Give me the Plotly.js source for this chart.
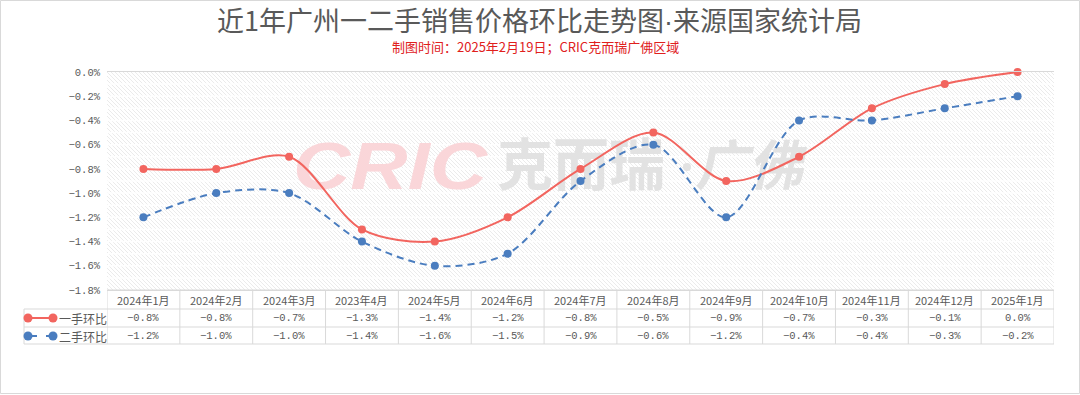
<!DOCTYPE html>
<html><head><meta charset="utf-8">
<script src="https://cdn.plot.ly/plotly-3.0.1.min.js"></script>
<style>html,body{margin:0;padding:0;background:#fff;}#c{width:1080px;height:395px;}</style>
</head><body><div id="c"></div>
<script>
const categories = ['2024年1月','2024年2月','2024年3月','2023年4月','2024年5月','2024年6月','2024年7月','2024年8月','2024年9月','2024年10月','2024年11月','2024年12月','2025年1月'];
const newHome = [-0.8,-0.8,-0.7,-1.3,-1.4,-1.2,-0.8,-0.5,-0.9,-0.7,-0.3,-0.1,0.0];
const resale = [-1.2,-1.0,-1.0,-1.4,-1.6,-1.5,-0.9,-0.6,-1.2,-0.4,-0.4,-0.3,-0.2];
const seriesNames = ['一手环比','二手环比'];
const yTicks = [0,-0.2,-0.4,-0.6,-0.8,-1.0,-1.2,-1.4,-1.6,-1.8];

const W=1080,H=395, L=107, R=1054, T=72, B=290;
const PW=R-L, PH=B-T;
const px=x=>(x-L)/PW, py=y=>(B-y)/PH;
const RED='#f2655f', BLUE='#4a7dbf', GRID='#d9d9d9', TXT='#595959';
const fmt=v=>(v<0?'−':'')+Math.abs(v).toFixed(1)+'%';

// hatched background + watermark as svg image
let svg = `<svg xmlns="http://www.w3.org/2000/svg" width="${PW}" height="${PH}" viewBox="0 0 ${PW} ${PH}">
<defs><pattern id="h" width="4" height="4" patternUnits="userSpaceOnUse"><path d="M0,0 L4,4 M-1,3 L1,5 M3,-1 L5,1" stroke="#ebebeb" stroke-width="1"/></pattern></defs>
<rect width="${PW}" height="${PH}" fill="url(#h)"/>`;
for(let i=1;i<18;i++){const y=(PH*i/18).toFixed(1);svg+=`<line x1="0" x2="${PW}" y1="${y}" y2="${y}" stroke="#fff" stroke-width="1.5"/>`;}
svg += `<text x="186" y="117" font-family="Liberation Sans" font-weight="bold" font-style="italic" font-size="66" textLength="194" lengthAdjust="spacingAndGlyphs" fill="#fad6d9">CRIC</text>
<text x="390" y="113" font-family="Noto Sans CJK SC" font-weight="bold" font-size="56" fill="#e2e2e2">克而瑞</text>
<circle cx="580" cy="95" r="4" fill="#e2e2e2"/>
<text x="592" y="113" font-family="Noto Sans CJK SC" font-weight="bold" font-size="54" fill="#e2e2e2" transform="skewX(-12) translate(20,0)">广佛</text></svg>`;
const bg = 'data:image/svg+xml;charset=utf-8,'+encodeURIComponent(svg);

const shapes=[], annotations=[];
const line=(x0,y0,x1,y1,xref,c,w,dash)=>shapes.push({type:'line',xref:xref||'paper',yref:'paper',x0,y0,x1,y1,line:{color:c||GRID,width:w||1,dash:dash||'solid'},layer:'above'});
const ann=(o)=>annotations.push(Object.assign({showarrow:false,xanchor:'center',yanchor:'middle'},o));
// table
const rows=[290,309,327,344];
const tblLeft=24;
line(-0.5,py(290),12.5,py(290),'x');
for(let r=1;r<4;r++) line(px(tblLeft),py(rows[r]),px(R),py(rows[r]));
for(let i=0;i<=13;i++) line(i-0.5,py(290),i-0.5,py(344),'x');
line(px(tblLeft),py(309),px(tblLeft),py(344));
const valFont={family:'Liberation Mono',size:10.5,color:TXT};
categories.forEach((c,i)=>{
  ann({xref:'x',yref:'paper',x:i,y:py(300),text:c,font:{family:'Noto Sans CJK SC',size:11,color:TXT}});
  ann({xref:'x',yref:'paper',x:i,y:py(318),text:newHome[i]===0?'0.0%':fmt(newHome[i]),font:valFont});
  ann({xref:'x',yref:'paper',x:i,y:py(336),text:resale[i]===0?'0.0%':fmt(resale[i]),font:valFont});
});
// legend keys in table
[[318,RED,'solid',seriesNames[0]],[336,BLUE,'dash',seriesNames[1]]].forEach(([y,c,d,n])=>{
  line(px(28),py(y),px(53),py(y),'paper',c,2,d);
  [28,53].forEach(x=>shapes.push({type:'circle',xref:'paper',yref:'paper',xsizemode:'pixel',ysizemode:'pixel',xanchor:px(x),yanchor:py(y),x0:-4.5,x1:4.5,y0:-4.5,y1:4.5,fillcolor:c,line:{width:0},layer:'above'}));
  ann({xref:'paper',yref:'paper',x:px(57),y:py(y),xanchor:'left',text:n,font:{family:'Noto Sans CJK SC',size:12,color:TXT}});
});
// outer frame
shapes.push({type:'rect',xref:'paper',yref:'paper',x0:px(0.5),x1:px(1079.5),y0:py(0.5),y1:py(393.5),line:{color:'#d9d9d9',width:1},layer:'below'});
ann({xref:'paper',yref:'paper',x:px(535),y:py(46.5),text:'制图时间：2025年2月19日；CRIC克而瑞广佛区域',font:{family:'Noto Sans CJK SC',size:13,color:'#e0201c'}});
ann({xref:'paper',yref:'paper',x:px(539),y:py(19.5),text:'近1年广州一二手销售价格环比走势图<span style="font-family:Liberation Sans">·</span>来源国家统计局',font:{family:'Noto Sans CJK SC',size:27,color:TXT}});

const traces=[
 {x:categories,y:newHome,name:seriesNames[0],type:'scatter',mode:'lines+markers',line:{color:RED,width:2,shape:'spline',smoothing:0.9},marker:{size:8,color:RED},cliponaxis:false},
 {x:categories,y:resale,name:seriesNames[1],type:'scatter',mode:'lines+markers',line:{color:BLUE,width:2,shape:'spline',smoothing:0.9,dash:'7px,5px'},marker:{size:8,color:BLUE},cliponaxis:false}
];
const layout={
 width:W,height:H,margin:{l:L,r:W-R,t:T,b:H-B},
 paper_bgcolor:'#fff',plot_bgcolor:'rgba(0,0,0,0)',showlegend:false,
 xaxis:{type:'category',range:[-0.5,12.5],showticklabels:false,showgrid:false,zeroline:false,showline:true,mirror:true,linecolor:GRID,linewidth:1,ticks:''},
 yaxis:{range:[-1.8,0],tickvals:yTicks,ticktext:yTicks.map(v=>v===0?'0.0%':fmt(v)),showgrid:false,zeroline:false,showline:false,ticks:'',ticklen:0,ticklabelstandoff:6,tickfont:{family:'Liberation Mono',size:10.5,color:TXT}},
 images:[{source:bg,xref:'paper',yref:'paper',x:0,y:1,sizex:1,sizey:1,sizing:'stretch',xanchor:'left',yanchor:'top',layer:'below'}],
 shapes,annotations,
 font:{family:'Noto Sans CJK SC'}
};
Plotly.newPlot('c',traces,layout,{staticPlot:true,displayModeBar:false});
</script></body></html>
